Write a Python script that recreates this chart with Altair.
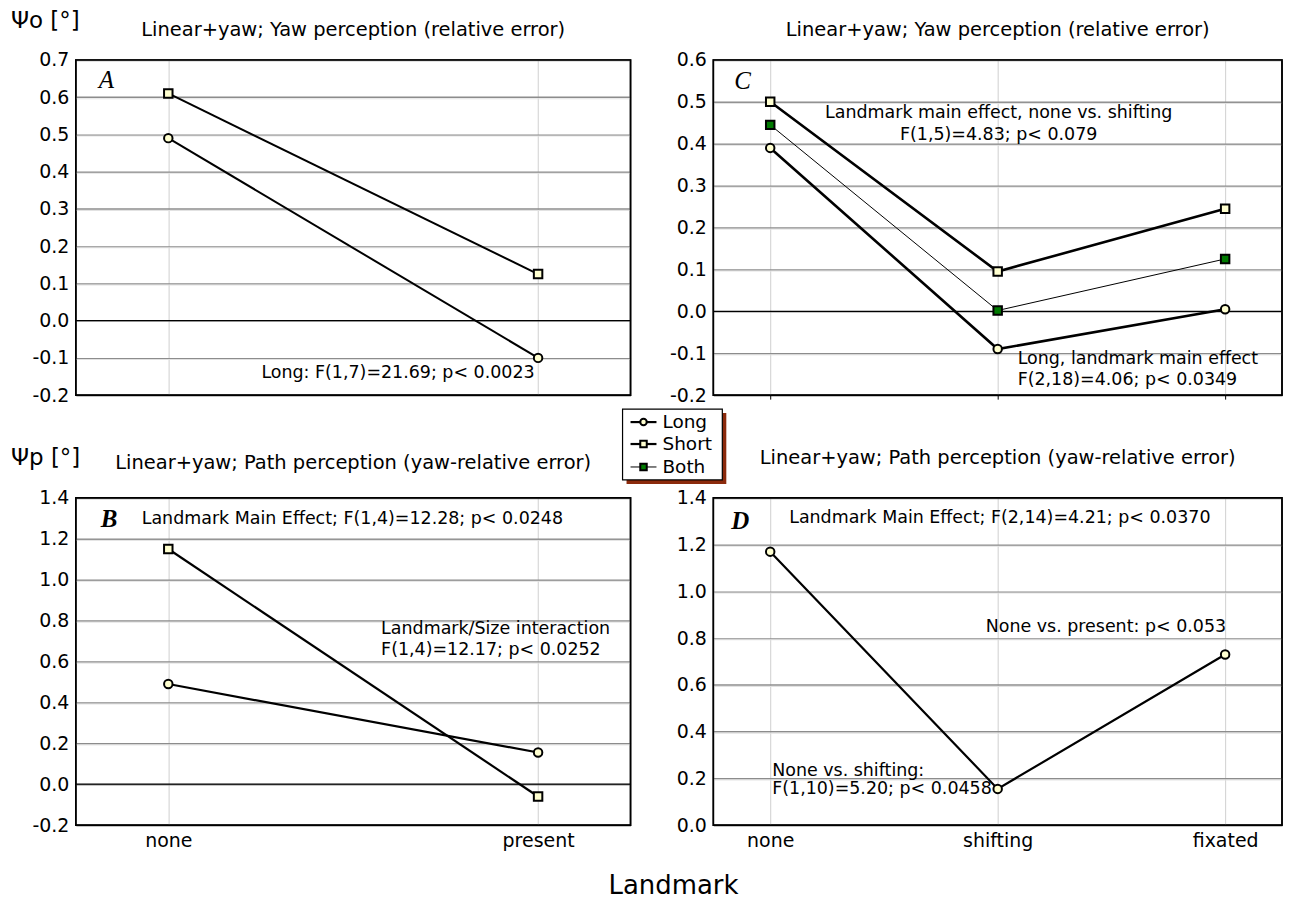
import altair as alt
import pandas as pd

# ---------------- data ----------------
cats_2 = ["none", "present"]
cats_3 = ["none", "shifting", "fixated"]
series_names = ["Long", "Short", "Both"]

A_long = [0.49, -0.10]
A_short = [0.61, 0.125]

C_long = [0.39, -0.09, 0.005]
C_short = [0.50, 0.095, 0.245]
C_both = [0.445, 0.002, 0.125]

B_long = [0.49, 0.155]
B_short = [1.15, -0.06]

D_long = [1.17, 0.155, 0.73]

ticks_A = [-0.2, -0.1, 0.0, 0.1, 0.2, 0.3, 0.4, 0.5, 0.6, 0.7]
ticks_C = [-0.2, -0.1, 0.0, 0.1, 0.2, 0.3, 0.4, 0.5, 0.6]
ticks_B = [-0.2, 0.0, 0.2, 0.4, 0.6, 0.8, 1.0, 1.2, 1.4]
ticks_D = [0.0, 0.2, 0.4, 0.6, 0.8, 1.0, 1.2, 1.4]

title_yaw = "Linear+yaw; Yaw perception (relative error)"
title_path = "Linear+yaw; Path perception (yaw-relative error)"

FONT = "DejaVu Sans"
SERIF = "Liberation Serif"
YELLOW = "#ffffd0"
GREEN = "#007a00"
ANN = 17.5

LABEL_EXPR = "datum.value < 0 ? '-' + format(-datum.value, '.1f') : format(datum.value, '.1f')"


def df_of(cats, vals):
    return pd.DataFrame({"cat": cats, "val": vals})


def text_layer(txt, x, y, align="left", size=ANN, font=FONT, style="normal", weight="normal",
               baseline="middle"):
    return alt.Chart(pd.DataFrame({"t": [txt]})).mark_text(
        align=align, baseline=baseline, fontSize=size, font=font,
        fontStyle=style, fontWeight=weight, color="black",
    ).encode(text="t:N", x=alt.value(x), y=alt.value(y))


def panel(cats, domain, ticks, series, title, title_offset, letter, letter_pos,
          annotations, width, height, show_labels, x_ticks, extra=None):
    xscale = alt.Scale(type="point", domain=cats, padding=0.25)
    yscale = alt.Scale(domain=domain, nice=False, zero=False)
    yaxis = alt.Axis(values=ticks, labelExpr=LABEL_EXPR, grid=True, gridColor="#8c8c8c",
                     gridWidth=1.5, ticks=False, labelPadding=7, labelFontSize=19,
                     labelFont=FONT, labelColor="black", domain=False, title=None,
                     labelOverlap=False)
    xaxis = alt.Axis(title=None, labels=show_labels, grid=True, gridColor="#d0d0d0",
                     gridWidth=1, ticks=x_ticks, tickSize=4, tickColor="black",
                     labelFontSize=19, labelFont=FONT, labelColor="black",
                     labelPadding=6, domain=False, labelAngle=0)

    def enc_x():
        return alt.X("cat:N", scale=xscale, sort=cats, axis=xaxis)

    def enc_y():
        return alt.Y("val:Q", scale=yscale, axis=yaxis)

    layers = [alt.Chart(df_of(cats, [domain[0]] * len(cats))).mark_point(opacity=0)
              .encode(x=enc_x(), y=enc_y())]
    # light companion line under each horizontal grid line (embossed look)
    inner = [t for t in ticks if domain[0] < t < domain[1] and t != 0.0]
    layers.append(alt.Chart(pd.DataFrame({"val": inner})).mark_rule(
        color="#e2e2e2", strokeWidth=1, yOffset=1.6).encode(y=enc_y()))
    if domain[0] < 0:
        layers.append(alt.Chart(pd.DataFrame({"val": [0.0]})).mark_rule(color="black", strokeWidth=1.3)
                      .encode(y=enc_y()))
    for vals, shape, fill, lw in series:
        d = alt.Chart(df_of(cats, vals))
        layers.append(d.mark_line(color="black", strokeWidth=lw).encode(x=enc_x(), y=enc_y()))
        layers.append(d.mark_point(shape=shape, filled=True, fill=fill, stroke="black",
                                   strokeWidth=2, size=72, opacity=1).encode(x=enc_x(), y=enc_y()))
    # plot frame drawn above the grid
    layers.append(alt.Chart(pd.DataFrame({"a": [0]})).mark_rect(
        fill=None, stroke="black", strokeWidth=1.6).encode(
        x=alt.value(0), x2=alt.value(width), y=alt.value(0), y2=alt.value(height)))
    layers.append(text_layer(letter, letter_pos[0], letter_pos[1], size=25, font=SERIF,
                             style="italic", weight=letter_pos[2], baseline="alphabetic"))
    for (txt, x, y, al) in annotations:
        layers.append(text_layer(txt, x, y, align=al))
    if extra:
        layers += extra
    return alt.layer(*layers).properties(
        width=width, height=height,
        title=alt.TitleParams(title, fontSize=19.5, font=FONT, fontWeight="normal",
                              anchor="middle", frame="group", offset=title_offset, color="black"),
    )


WL, WR = 556, 570

# ---------- legend (drawn in panel C coordinates) ----------
lx0, ly0, lx1, ly1 = -91, 350, 9, 421
one = pd.DataFrame({"a": [0]})
legend = [
    alt.Chart(one).mark_rect(fill="#8b2a0c").encode(
        x=alt.value(lx0 + 4), x2=alt.value(lx1 + 4), y=alt.value(ly0 + 4), y2=alt.value(ly1 + 4)),
    alt.Chart(one).mark_rect(fill="white", stroke="black", strokeWidth=1.2).encode(
        x=alt.value(lx0), x2=alt.value(lx1), y=alt.value(ly0), y2=alt.value(ly1)),
]
leg_rows = [(363, "circle", YELLOW, 2.2), (385, "square", YELLOW, 2.2), (408, "square", GREEN, 1.0)]
for name, (yy, shp, fl, lw) in zip(series_names, leg_rows):
    legend.append(alt.Chart(one).mark_rule(color="black", strokeWidth=lw).encode(
        x=alt.value(-83), x2=alt.value(-57), y=alt.value(yy)))
    legend.append(alt.Chart(one).mark_point(shape=shp, filled=True, fill=fl, stroke="black",
                                            strokeWidth=2, size=42, opacity=1).encode(
        x=alt.value(-70), y=alt.value(yy)))
    legend.append(text_layer(name, -51, yy, size=18.5))

# ---------- panels ----------
psi_o = [text_layer("Ψo [°]", -65, -50, size=23, baseline="top")]
pA = panel(cats_2, [-0.2, 0.7], ticks_A,
           [(A_long, "circle", YELLOW, 2), (A_short, "square", YELLOW, 2)],
           title_yaw, -31, "A", (23, 28, "normal"),
           [("Long: F(1,7)=21.69; p< 0.0023", 186, 314, "left")],
           WL, 336, False, False, extra=psi_o)

pC = panel(cats_3, [-0.2, 0.6], ticks_C,
           [(C_long, "circle", YELLOW, 2.6), (C_short, "square", YELLOW, 2.6), (C_both, "square", GREEN, 1)],
           title_yaw, 10, "C", (21, 29, "normal"),
           [("Landmark main effect, none vs. shifting", 286, 53, "center"),
            ("F(1,5)=4.83; p< 0.079", 286, 75, "center"),
            ("Long, landmark main effect", 305, 300, "left"),
            ("F(2,18)=4.06; p< 0.0349", 305, 321, "left")],
           WR, 336, False, True, extra=legend)

psi_p = [text_layer("Ψp [°]", -65, -51, size=23, baseline="top")]
pB = panel(cats_2, [-0.2, 1.4], ticks_B,
           [(B_long, "circle", YELLOW, 2.2), (B_short, "square", YELLOW, 2.2)],
           title_path, -27, "B", (25, 29, "bold"),
           [("Landmark Main Effect; F(1,4)=12.28; p< 0.0248", 66, 21, "left"),
            ("Landmark/Size interaction", 306, 131, "left"),
            ("F(1,4)=12.17; p< 0.0252", 306, 152, "left")],
           WL, 328, True, False, extra=psi_p)

landmark = [text_layer("Landmark", -40, 389, align="center", size=26)]
pD = panel(cats_3, [0.0, 1.4], ticks_D,
           [(D_long, "circle", YELLOW, 2.2)],
           title_path, 20, "D", (18, 31, "bold"),
           [("Landmark Main Effect; F(2,14)=4.21; p< 0.0370", 76, 20, "left"),
            ("None vs. present: p< 0.053", 273, 129, "left"),
            ("None vs. shifting:", 59, 274, "left"),
            ("F(1,10)=5.20; p< 0.0458", 59, 292, "left")],
           WR, 328, True, False, extra=landmark)

chart = alt.concat(pA, pC, pB, pD, columns=2, spacing={"row": 103, "column": 83},
                   bounds="flush").resolve_scale(x="independent", y="independent").properties(
    padding={"left": 2, "top": 0, "right": 0, "bottom": 0}, background="white"
).configure_view(stroke="black", strokeWidth=1.5)

chart.save("out.html", embed_options={"renderer": "svg", "actions": False})
